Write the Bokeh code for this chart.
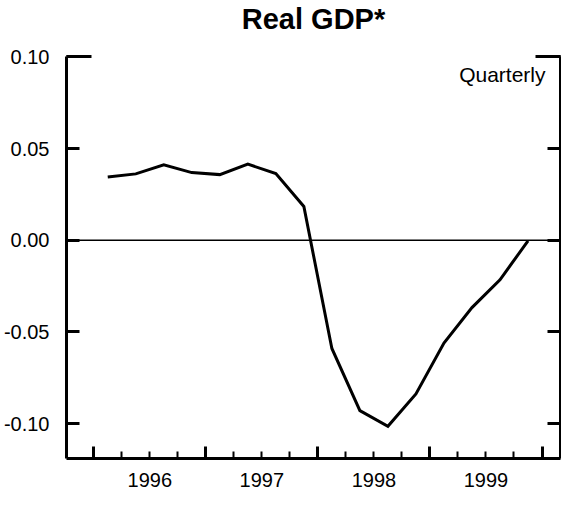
from bokeh.plotting import figure
from bokeh.models import (Range1d, LinearAxis, FixedTicker, NumeralTickFormatter,
                          CustomJSTickFormatter, Span, Label)
from bokeh.embed import file_html
from bokeh.resources import INLINE

# ---- data (quarterly, plotted at mid-quarter) ----
quarter_dates = [1996.125, 1996.375, 1996.625, 1996.875,
                 1997.125, 1997.375, 1997.625, 1997.875,
                 1998.125, 1998.375, 1998.625, 1998.875,
                 1999.125, 1999.375, 1999.625, 1999.875]
real_gdp = [0.0345, 0.0362, 0.0412, 0.0369,
            0.0358, 0.0415, 0.0364, 0.0184,
            -0.0590, -0.0929, -0.1014, -0.0838,
            -0.0560, -0.0367, -0.0216, -0.0003]

year_bounds = [1996, 1997, 1998, 1999, 2000]
quarter_bounds = [1996.25, 1996.5, 1996.75, 1997.25, 1997.5, 1997.75,
                  1998.25, 1998.5, 1998.75, 1999.25, 1999.5, 1999.75]
year_label_pos = [1996.5, 1997.5, 1998.5, 1999.5]
year_labels = ["1996", "1997", "1998", "1999"]
y_ticks = [-0.10, -0.05, 0.0, 0.05, 0.10]
y_top_tick = [0.10]

title_text = "Real GDP*"
note_text = "Quarterly"

X_START, X_END = 1995.757, 2000.165
Y_START, Y_END = -0.119, 0.1002

FONT = "Liberation Sans"

p = figure(x_range=Range1d(X_START, X_END), y_range=Range1d(Y_START, Y_END),
           width=561, height=497,
           min_border_left=65, min_border_right=1, min_border_top=50, min_border_bottom=39,
           x_axis_location=None, y_axis_location=None,
           toolbar_location=None, output_backend="svg")
p.outline_line_color = None
p.background_fill_color = "white"
p.border_fill_color = "white"


def deco_axis(ticks, tick_in, line=False, minor=None, minor_in=0):
    ax = LinearAxis(ticker=FixedTicker(ticks=ticks, minor_ticks=minor or []),
                    formatter=CustomJSTickFormatter(code="return ''"),
                    major_tick_in=tick_in, major_tick_out=0,
                    minor_tick_in=minor_in, minor_tick_out=0,
                    major_tick_line_width=3, major_tick_line_color="black",
                    minor_tick_line_width=2,
                    minor_tick_line_color="black" if minor else None,
                    major_label_text_font_size="0px", major_label_standoff=0,
                    axis_label_standoff=0)
    if line:
        ax.axis_line_width = 3
        ax.axis_line_color = "black"
    else:
        ax.axis_line_color = None
    return ax

# left side: long top tick (innermost), then the labelled axis
p.add_layout(deco_axis(y_top_tick, 25), "left")
left_main = LinearAxis(ticker=FixedTicker(ticks=y_ticks, minor_ticks=[]),
                       formatter=NumeralTickFormatter(format="0.00"),
                       major_tick_in=13, major_tick_out=0,
                       minor_tick_in=0, minor_tick_out=0,
                       major_tick_line_width=3, minor_tick_line_color=None,
                       axis_line_width=3,
                       major_label_text_font=FONT, major_label_text_font_size="20px",
                       major_label_text_color="black", major_label_standoff=17)
p.add_layout(left_main, "left")

# right side
p.add_layout(deco_axis(y_top_tick, 25), "right")
p.add_layout(deco_axis(y_ticks, 13, line=True), "right")

# bottom: tick axis (innermost) then label axis
p.add_layout(deco_axis(year_bounds, 12, line=True, minor=quarter_bounds, minor_in=7), "below")
bottom_labels = LinearAxis(ticker=FixedTicker(ticks=year_label_pos, minor_ticks=[]),
                           major_label_overrides={k: v for k, v in zip(year_label_pos, year_labels)},
                           major_tick_in=0, major_tick_out=0,
                           minor_tick_in=0, minor_tick_out=0,
                           major_tick_line_color=None, minor_tick_line_color=None,
                           axis_line_color=None,
                           major_label_text_font=FONT, major_label_text_font_size="20px",
                           major_label_text_color="black", major_label_standoff=14)
p.add_layout(bottom_labels, "below")

# invisible spacer between the title and the frame
spacer = LinearAxis(ticker=FixedTicker(ticks=[1998.0], minor_ticks=[]),
                    formatter=CustomJSTickFormatter(code="return ''"),
                    major_tick_in=0, major_tick_out=22,
                    minor_tick_in=0, minor_tick_out=0,
                    major_tick_line_color="white", minor_tick_line_color=None,
                    axis_line_color=None,
                    major_label_text_font_size="0px", major_label_standoff=0)
p.add_layout(spacer, "above")

p.xgrid.visible = False
p.ygrid.visible = False

p.add_layout(Span(location=0, dimension="width", line_color="black", line_width=1.5))

p.line(quarter_dates, real_gdp, line_color="black", line_width=3, line_join="miter")

p.title.text = title_text
p.title.align = "center"
p.title.vertical_align = "bottom"
p.title.text_font = FONT
p.title.text_font_size = "29px"
p.title.text_font_style = "bold"
p.title.text_color = "black"
p.title.standoff = 0

p.add_layout(Label(x=X_END, y=y_top_tick[0], x_offset=-15, y_offset=-6,
                   text=note_text, text_align="right", text_baseline="top",
                   text_font=FONT, text_font_size="21px", text_color="black"))

open("out.html", "w").write(file_html(p, INLINE))
